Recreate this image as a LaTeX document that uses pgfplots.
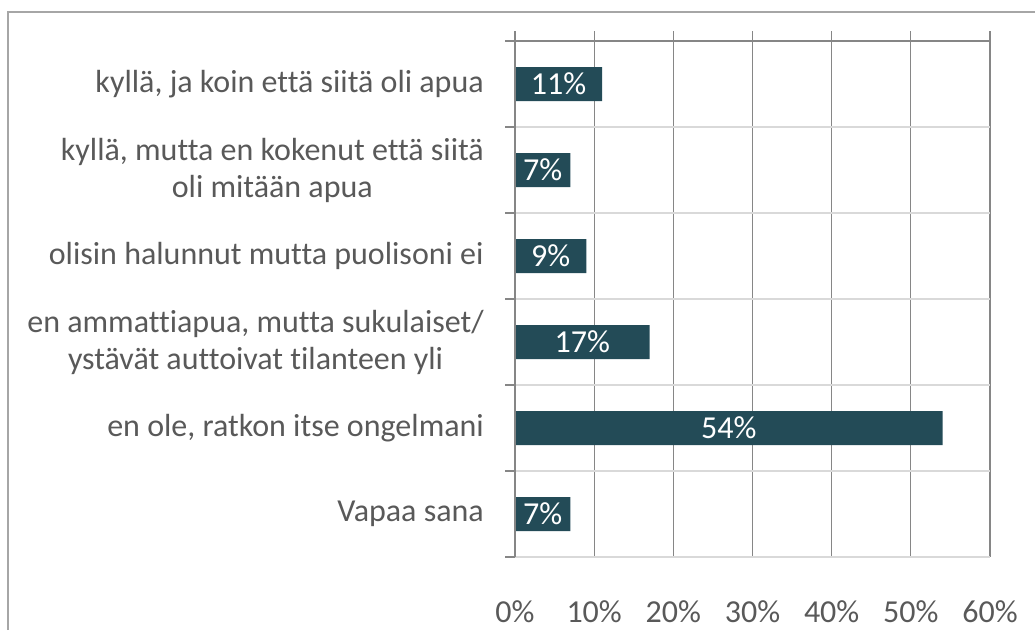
\documentclass[border=0pt]{standalone}
\usepackage{pgfplots}
\pgfplotsset{compat=1.18}
\usepackage{pgfplotstable}
\usepackage{fontspec}
\setmainfont{Carlito}[Ligatures=NoCommon]
\definecolor{barc}{HTML}{234B57}
\definecolor{txt}{HTML}{595959}
\definecolor{gdark}{HTML}{868686}
\definecolor{glight}{HTML}{D9D9D9}
\definecolor{framec}{HTML}{A6A6A6}
\pgfplotstableread{
y v
5 11
4 7
3 9
2 17
1 54
0 7
}\datatable
\newcommand{\bigf}{\fontsize{32}{37}\selectfont}
\begin{document}
\begin{tikzpicture}[x=1pt,y=1pt]
\path[use as bounding box] (0,0) rectangle (1035,630);
\draw[framec, line width=1.5pt] (8,0) -- (8,618) -- (1035,618);
\begin{axis}[name=ax,
  at={(515pt,73pt)}, anchor=south west, scale only axis,
  width=475pt, height=516pt,
  xmin=0, xmax=60, ymin=-0.5, ymax=5.5,
  /pgf/number format/assume math mode=true,
  axis line style={draw=none},
  xtick={0,10,...,60},
  xticklabels={0\%,10\%,20\%,30\%,40\%,50\%,60\%},
  xtick pos=right, xticklabel pos=left,
  ytick pos=left,
  tick align=outside, major tick length=10pt,
  xmajorgrids=true,
  major grid style={gdark, line width=1.2pt},
  x tick style={gdark, line width=1.2pt},
  xticklabel style={text=txt, font=\bigf, inner sep=0pt, yshift=-33pt},
  ytick={0,...,5},
  yticklabels={Vapaa sana, {en ole, ratkon itse ongelmani}, {en ammattiapua, mutta sukulaiset/\\ystävät auttoivat tilanteen yli}, olisin halunnut mutta puolisoni ei, {kyllä, mutta en kokenut että siitä\\oli mitään apua}, {kyllä, ja koin että siitä oli apua}},
  yticklabel style={text=txt, font=\bigf, inner sep=0pt, align=center, xshift=-21pt},
  y tick style={draw=none},
  extra y ticks={-0.5,0.5,1.5,2.5,3.5,4.5,5.5},
  extra y tick labels={},
  extra y tick style={ytick pos=left, y tick style={draw=gdark, line width=1.2pt}, ymajorgrids=true, major grid style={glight, line width=1.5pt}},
  every node near coord/.append style={anchor=center, text=white, font=\bigf, inner sep=0pt},
  clip=false,
]
\addplot[xbar, bar width=34pt, bar shift=0pt, fill=barc, draw=none] table[x=v, y=y] {\datatable};
\addplot[draw=none, mark=none, point meta=explicit, nodes near coords={\pgfmathprintnumber{\pgfplotspointmeta}\%}] table[x expr=\thisrow{v}/2, y=y, meta=v] {\datatable};
\end{axis}
\draw[gdark, line width=1.5pt] (ax.south west) -- (ax.north west);
\draw[gdark, line width=2.2pt] ([xshift=-10pt]ax.north west) -- (ax.north east);
\end{tikzpicture}
\end{document}
